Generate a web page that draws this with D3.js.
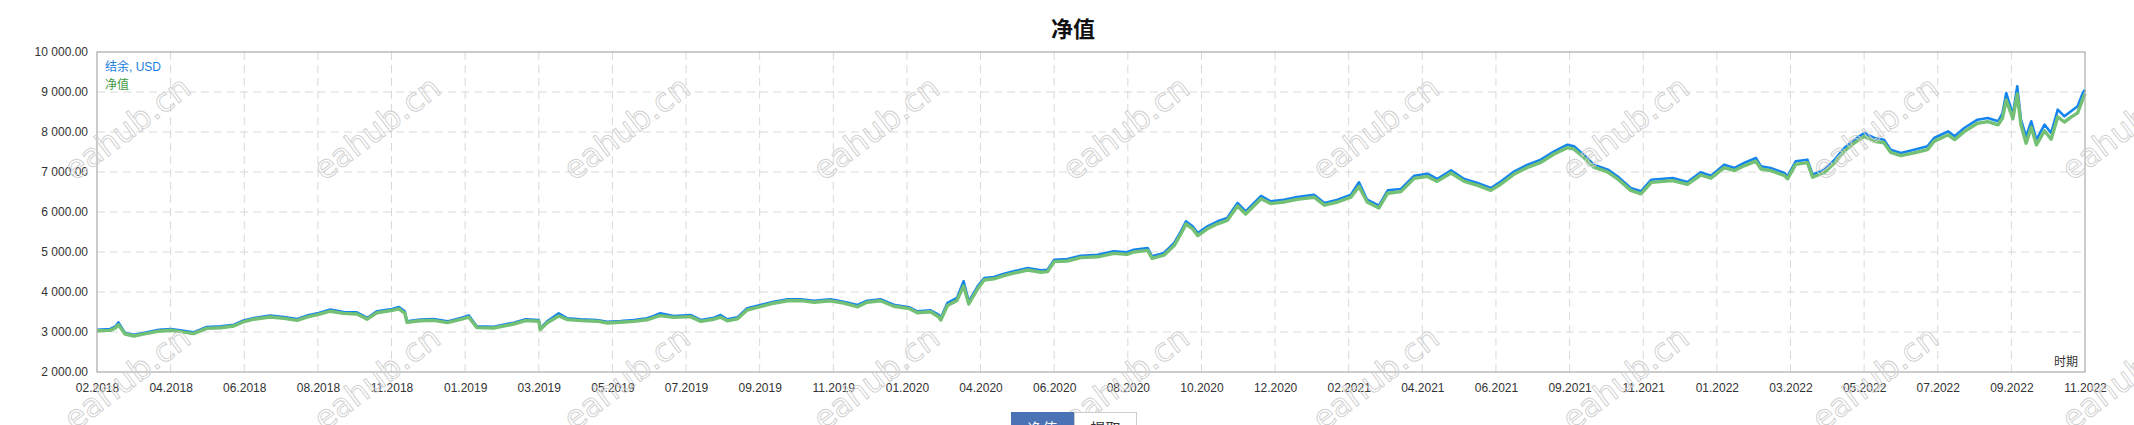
<!DOCTYPE html>
<html lang="zh">
<head>
<meta charset="utf-8">
<title>净值</title>
<script src="https://d3js.org/d3.v7.min.js"></script>
<style type="text/css">
	body{margin:0;background:#fff;}
	text{font-family:"Liberation Sans","Noto Sans CJK SC",sans-serif;}
	.grid line{stroke:#d9d9d9;stroke-dasharray:8,5;}
	.axis text{fill:#333;font-size:12px;}
</style>
</head>
<body>
<script type="text/javascript">

var labels = ["02.2018","04.2018","06.2018","08.2018","11.2018","01.2019","03.2019","05.2019","07.2019","09.2019",
	"11.2019","01.2020","04.2020","06.2020","08.2020","10.2020","12.2020","02.2021","04.2021","06.2021",
	"09.2021","11.2021","01.2022","03.2022","05.2022","07.2022","09.2022","11.2022"];

var yTicks = [2000,3000,4000,5000,6000,7000,8000,9000,10000];

// position along the time axis, in label steps
var period = [0,0.18,0.25,0.29,0.38,0.5,0.63,0.84,1,1.13,
	1.31,1.49,1.68,1.86,1.99,2.13,2.35,2.54,2.72,2.85,
	3.01,3.17,3.35,3.53,3.67,3.8,4.01,4.1,4.18,4.21,
	4.39,4.57,4.76,4.94,5.05,5.16,5.39,5.66,5.82,6,
	6.02,6.11,6.27,6.39,6.57,6.79,6.93,7.11,7.29,7.47,
	7.56,7.65,7.83,8.06,8.2,8.38,8.47,8.56,8.7,8.83,
	9.01,9.19,9.38,9.56,9.74,9.96,10.14,10.33,10.46,10.64,
	10.82,11.03,11.14,11.32,11.43,11.46,11.55,11.68,11.77,11.84,
	11.96,12.05,12.18,12.32,12.45,12.64,12.82,12.91,13,13.18,
	13.36,13.59,13.81,13.99,14.08,14.27,14.33,14.49,14.63,14.72,
	14.79,14.88,14.95,15.08,15.22,15.35,15.49,15.6,15.81,15.94,
	16.12,16.3,16.53,16.67,16.85,17.03,17.14,17.25,17.41,17.53,
	17.71,17.89,18.07,18.2,18.39,18.57,18.75,18.93,19.07,19.25,
	19.43,19.61,19.79,19.97,20.06,20.19,20.33,20.52,20.65,20.83,
	20.97,21.11,21.4,21.6,21.78,21.92,22.1,22.24,22.37,22.53,
	22.6,22.73,22.92,22.96,23.07,23.23,23.3,23.46,23.6,23.73,
	23.87,24,24.14,24.27,24.36,24.5,24.68,24.86,24.95,25.14,
	25.23,25.36,25.54,25.68,25.82,25.88,25.93,26.02,26.08,26.13,
	26.2,26.27,26.34,26.45,26.54,26.63,26.72,26.81,26.9,26.97,
	27];

var balance = [3058,3075,3140,3240,2975,2930,2975,3058,3075,3040,
	2990,3125,3140,3180,3290,3350,3410,3375,3325,3410,
	3475,3560,3500,3490,3350,3515,3575,3625,3515,3265,
	3310,3325,3265,3350,3415,3140,3133,3233,3317,3300,
	3090,3258,3467,3342,3317,3300,3258,3275,3300,3342,
	3400,3467,3400,3425,3300,3358,3425,3317,3367,3592,
	3675,3758,3817,3817,3783,3817,3758,3675,3783,3817,
	3680,3620,3517,3542,3433,3350,3725,3850,4267,3767,
	4142,4350,4375,4458,4517,4600,4542,4558,4808,4825,
	4908,4933,5017,4992,5058,5100,4892,4975,5225,5517,
	5767,5642,5475,5642,5767,5850,6225,6017,6400,6267,
	6308,6375,6433,6225,6308,6433,6742,6308,6158,6542,
	6575,6908,6958,6825,7042,6825,6725,6600,6767,7017,
	7183,7308,7517,7683,7642,7433,7183,7058,6892,6600,
	6517,6808,6850,6750,6992,6908,7183,7100,7225,7350,
	7142,7100,6975,6892,7267,7308,6933,7058,7308,7600,
	7808,7975,7850,7808,7558,7475,7558,7642,7850,8017,
	7892,8100,8308,8350,8267,8475,8975,8433,9142,8308,
	7892,8267,7808,8183,7975,8558,8392,8517,8642,8975,
	9058];

var equity = [3030,3040,3100,3180,2950,2900,2945,3020,3045,3010,
	2960,3090,3105,3150,3255,3320,3375,3340,3290,3370,
	3440,3520,3465,3450,3320,3480,3540,3580,3470,3240,
	3280,3290,3235,3315,3370,3110,3100,3200,3285,3270,
	3060,3225,3400,3310,3285,3270,3225,3245,3265,3305,
	3360,3410,3365,3385,3265,3320,3370,3280,3330,3550,
	3635,3720,3780,3785,3745,3780,3720,3630,3745,3780,
	3645,3585,3480,3505,3380,3300,3660,3790,4150,3700,
	4080,4300,4330,4410,4470,4550,4495,4510,4760,4775,
	4860,4880,4965,4940,5000,5040,4840,4920,5160,5450,
	5700,5580,5410,5580,5705,5790,6150,5950,6330,6210,
	6250,6315,6370,6170,6250,6370,6640,6250,6100,6470,
	6510,6840,6890,6765,6975,6765,6665,6540,6700,6950,
	7115,7240,7450,7610,7570,7370,7120,6995,6830,6540,
	6455,6740,6785,6690,6925,6845,7110,7035,7155,7270,
	7075,7035,6910,6830,7190,7235,6870,6990,7230,7520,
	7730,7890,7770,7730,7490,7410,7480,7560,7765,7930,
	7810,8010,8220,8260,8180,8350,8800,8330,8950,8180,
	7720,8120,7680,8030,7820,8380,8250,8370,8480,8820,
	8960];

var W = 2134, H = 425;
var margin = {top: 52, right: 49, bottom: 53, left: 97},
	width = W - margin.left - margin.right,
	height = H - margin.top - margin.bottom;

var svg = d3.select("body")
	.append("svg")
	.attr("width", W)
	.attr("height", H);

var g = svg.append("g")
	.attr("transform", "translate(" + margin.left + "," + margin.top + ")");

var xscale = d3.scaleLinear()
	.domain([0, labels.length - 1])
	.range([0, width]);

var yscale = d3.scaleLinear()
	.domain([d3.min(yTicks), d3.max(yTicks)])
	.range([height, 0]);

// dashed grid
g.append("g")
	.attr("class", "grid")
	.selectAll("line.h")
	.data(yTicks.slice(1, -1))
	.enter().append("line")
	.attr("x1", 0).attr("x2", width)
	.attr("y1", function(d){ return yscale(d); })
	.attr("y2", function(d){ return yscale(d); });

g.append("g")
	.attr("class", "grid")
	.selectAll("line.v")
	.data(d3.range(1, labels.length - 1))
	.enter().append("line")
	.attr("y1", 0).attr("y2", height)
	.attr("x1", function(d){ return xscale(d); })
	.attr("x2", function(d){ return xscale(d); });

var fmt = d3.format(",.2f");

g.append("g")
	.attr("class", "axis")
	.call(d3.axisLeft(yscale).tickValues(yTicks).tickSize(0).tickPadding(9)
		.tickFormat(function(d){ return fmt(d).replace(/,/g, " "); }))
	.call(function(a){ a.select(".domain").remove(); });

g.append("g")
	.attr("class", "axis")
	.attr("transform", "translate(0," + height + ")")
	.call(d3.axisBottom(xscale).tickValues(d3.range(labels.length)).tickSize(0).tickPadding(11)
		.tickFormat(function(i){ return labels[i]; }))
	.call(function(a){ a.select(".domain").remove(); });

// lines
var balLine = d3.line()
	.x(function(d, i){ return xscale(period[i]); })
	.y(function(d){ return yscale(d); });

g.append("path")
	.datum(balance)
	.attr("fill", "none")
	.attr("stroke", "#1585ee")
	.attr("stroke-width", 2.6)
	.attr("stroke-linejoin", "round")
	.attr("d", balLine);

g.append("path")
	.datum(equity)
	.attr("fill", "none")
	.attr("stroke", "#74c074")
	.attr("stroke-width", 3.4)
	.attr("stroke-linejoin", "round")
	.attr("d", balLine);

// frame
g.append("rect")
	.attr("width", width)
	.attr("height", height)
	.attr("fill", "none")
	.attr("stroke", "#aaa")
	.attr("stroke-width", 1.2);

// legend
g.append("text")
	.attr("x", 8).attr("y", 19)
	.attr("fill", "#1a7ee0")
	.style("font-size", "12px")
	.text("结余, USD");
g.append("text")
	.attr("x", 8).attr("y", 37)
	.attr("fill", "#3f9c3f")
	.style("font-size", "12px")
	.text("净值");

g.append("text")
	.attr("x", width - 7).attr("y", height - 6)
	.attr("text-anchor", "end")
	.attr("fill", "#333")
	.style("font-size", "12px")
	.text("时期");

// title
svg.append("text")
	.attr("x", 1073).attr("y", 37)
	.attr("text-anchor", "middle")
	.style("font-size", "22px")
	.style("font-weight", "bold")
	.attr("fill", "#111")
	.text("净值");

// watermark
var wm = svg.append("g");
[128, 378].forEach(function(yy){
	d3.range(9).forEach(function(k){
		wm.append("text")
			.attr("transform", "translate(" + (127 + k * 249.7) + "," + yy + ") rotate(-37)")
			.attr("text-anchor", "middle")
			.attr("dy", "0.35em")
			.style("font-family", "DejaVu Sans")
			.style("font-size", "32px")
			.attr("fill", "none")
			.attr("stroke", "#cfcfcf")
			.attr("stroke-width", 0.9)
			.text("eahub.cn");
	});
});

// tab buttons
svg.append("rect")
	.attr("x", 1011).attr("y", 412).attr("width", 63).attr("height", 30)
	.attr("fill", "#4a72b5");
svg.append("rect")
	.attr("x", 1074.5).attr("y", 412.5).attr("width", 62).attr("height", 30)
	.attr("fill", "#fff").attr("stroke", "#ccc");
svg.append("text")
	.attr("x", 1042.5).attr("y", 434)
	.attr("text-anchor", "middle")
	.attr("fill", "#fff")
	.style("font-size", "15px")
	.text("净值");
svg.append("text")
	.attr("x", 1105.5).attr("y", 434)
	.attr("text-anchor", "middle")
	.attr("fill", "#333")
	.style("font-size", "15px")
	.text("提取");

</script>
</body>
</html>
